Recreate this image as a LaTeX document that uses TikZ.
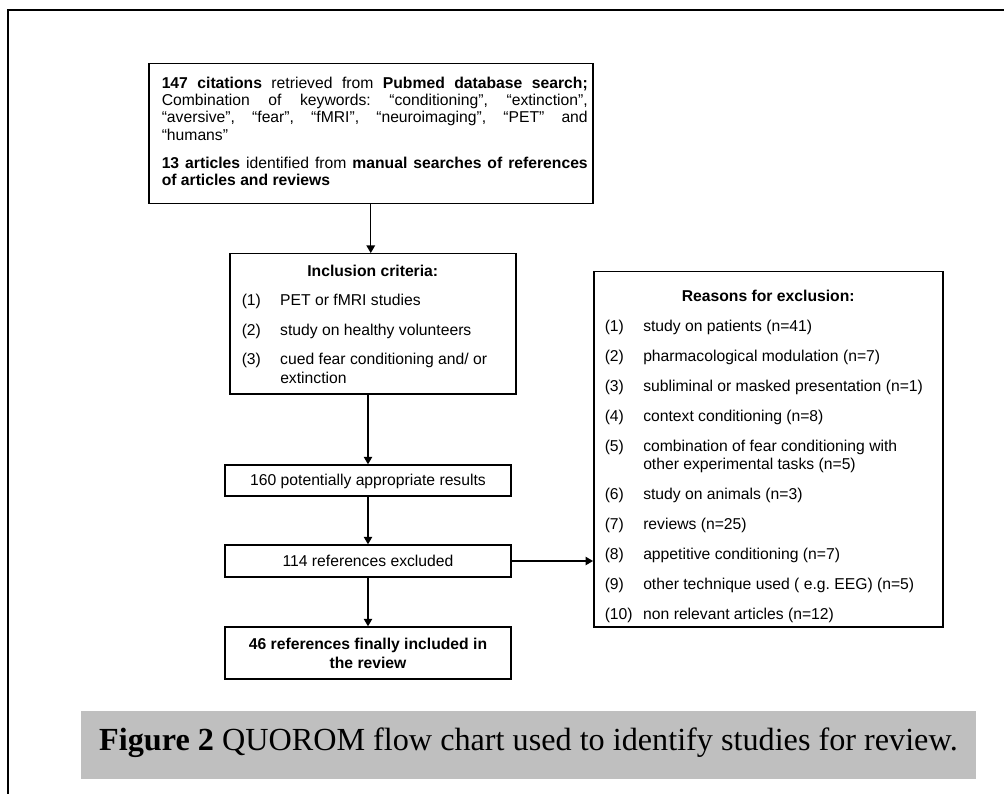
\documentclass[tikz,border=0pt]{standalone}
\usepackage{fontspec}
\setmainfont{Liberation Sans}
\newfontfamily\capserif{Liberation Serif}
\usetikzlibrary{arrows.meta}
\hbadness=10000
\frenchspacing
\newcommand\itm[2]{\par\hangindent=38.5pt\hangafter=1\noindent\makebox[38.5pt][l]{#1}#2\par}
\tikzset{
  box/.style={draw=black, line width=1.5pt, inner sep=0pt, font=\fontsize{15.7pt}{18.5pt}\selectfont},
  arr/.style={line width=1.3pt, -{Triangle[length=7.5pt,width=8.5pt]}},
}
\begin{document}
\begin{tikzpicture}[x=1pt,y=-1pt]
\useasboundingbox (0,0) rectangle (1004,794);
\draw[line width=1.6pt] (8,794) -- (8,10) -- (1004,10);

\node[box, anchor=north west] (search) at (148,63) {\hspace*{13pt}\parbox[c][140pt][t]{426pt}{\fontsize{15.7pt}{17.3pt}\selectfont\frenchspacing\vspace*{12.5pt}\strut\textbf{147 citations} retrieved from \textbf{Pubmed database search;}\linebreak Combination of keywords: “conditioning”, “extinction”,\linebreak “aversive”, “fear”, “fMRI”, “neuroimaging”, “PET” and\linebreak “humans”\par\setlength\parskip{11pt}\textbf{13 articles} identified from \textbf{manual searches of references}\linebreak \textbf{of articles and reviews}\par}\hspace*{5pt}};

\node[box, anchor=north west] (incl) at (229,253) {\hspace*{12pt}\parbox[c][140pt][t]{262pt}{\vspace*{9.65pt}{\centering\bfseries\strut Inclusion criteria:\par}\setlength\parskip{11pt}\itm{(1)}{PET or fMRI studies}\itm{(2)}{study on healthy volunteers}\itm{(3)}{cued fear conditioning and/ or\\ extinction}}\hspace*{12pt}};

\node[box, anchor=north west] (excl) at (593,271) {\hspace*{11pt}\parbox[c][355pt][t]{327pt}{\vspace*{16.65pt}{\centering\bfseries\strut Reasons for exclusion:\par}\setlength\parskip{11.5pt}\itm{(1)}{study on patients (n=41)}\itm{(2)}{pharmacological modulation (n=7)}\itm{(3)}{subliminal or masked presentation (n=1)}\itm{(4)}{context conditioning (n=8)}\itm{(5)}{combination of fear conditioning with\\ other experimental tasks (n=5)}\itm{(6)}{study on animals (n=3)}\itm{(7)}{reviews (n=25)}\itm{(8)}{appetitive conditioning (n=7)}\itm{(9)}{other technique used ( e.g. EEG) (n=5)}\itm{(10)}{non relevant articles (n=12)}}\hspace*{11pt}};

\node[box, minimum width=286pt, minimum height=31pt, text height=11.2pt, text depth=1pt] (results) at (368,480.5) {160 potentially appropriate results};
\node[box, minimum width=286pt, minimum height=32pt, text height=11.2pt, text depth=0pt] (excluded) at (368,561) {114 references excluded};
\node[box, minimum width=286pt, minimum height=52pt, align=center, font=\bfseries\fontsize{15.7pt}{19pt}\selectfont] (final) at (368,653) {46 references finally included in\\ the review};

\draw[arr] (search.south) -- (search.south |- incl.north);
\draw[arr] (results.north |- incl.south) -- (results.north);
\draw[arr] (results.south) -- (excluded.north);
\draw[arr] (excluded.south) -- (final.north);
\draw[arr] (excluded.east) -- (excluded.east -| excl.west);

\node[fill=black!25, minimum width=895pt, minimum height=68pt, inner sep=0pt, text height=22pt, text depth=12pt, font=\capserif\fontsize{32.2pt}{38pt}\selectfont] (caption) at (528.5,745) {\textbf{Figure 2} QUOROM flow chart used to identify studies for review.};
\end{tikzpicture}
\end{document}
